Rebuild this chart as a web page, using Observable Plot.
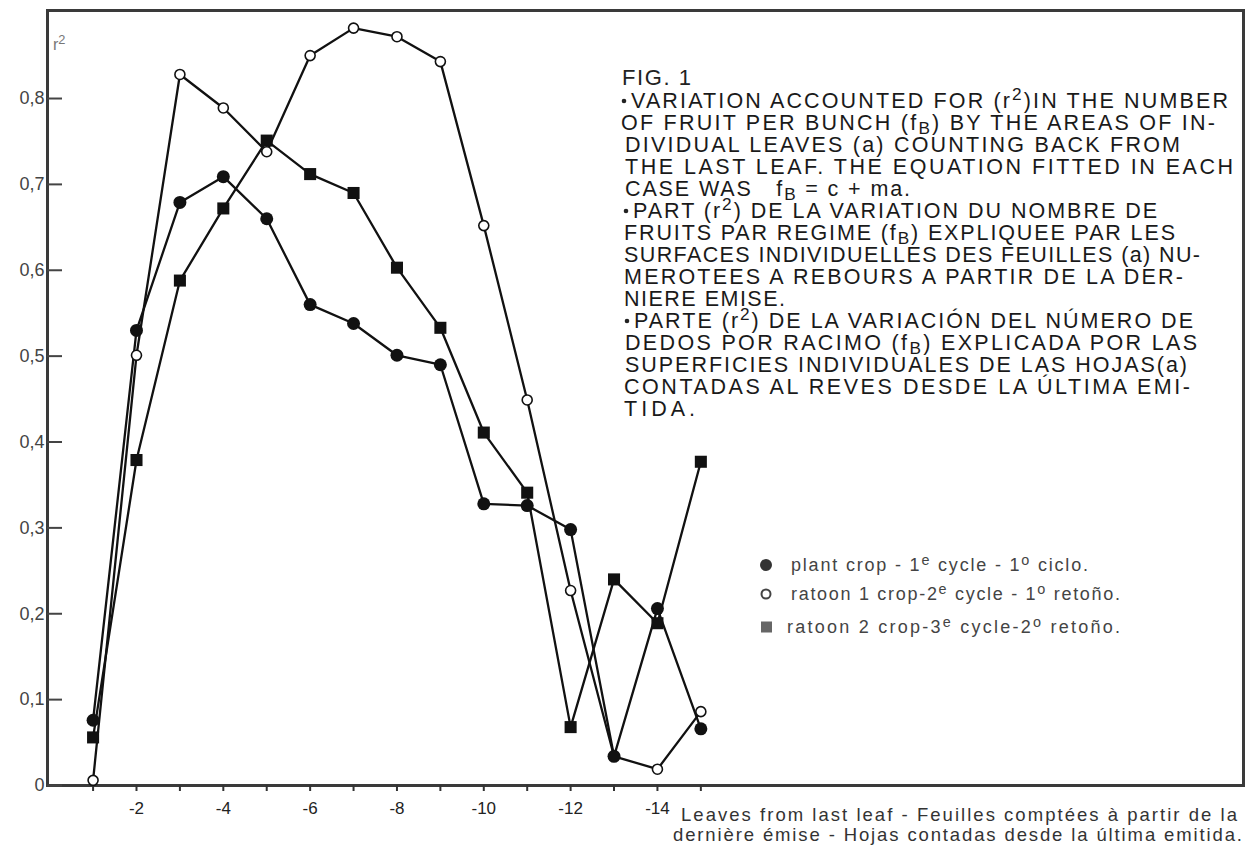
<!DOCTYPE html>
<html><head><meta charset="utf-8">
<script src="https://cdn.jsdelivr.net/npm/d3@7"></script>
<script src="https://cdn.jsdelivr.net/npm/@observablehq/plot@0.6"></script>
<style>
body{margin:0;background:#fff}
#chart{position:relative;width:1254px;height:846px}
</style>
</head><body><div id="chart"></div>
<script>
// ---------- data ----------
const leaves = [-1,-2,-3,-4,-5,-6,-7,-8,-9,-10,-11,-12,-13,-14,-15];
const plantCrop = [0.076,0.530,0.679,0.709,0.660,0.560,0.538,0.501,0.490,0.328,0.326,0.298,0.034,0.206,0.066];
const ratoon1   = [0.006,0.501,0.828,0.789,0.738,0.850,0.882,0.872,0.843,0.652,0.449,0.227,0.034,0.019,0.086];
const ratoon2   = [0.056,0.379,0.588,0.672,0.751,0.712,0.690,0.603,0.533,0.411,0.341,0.068,0.240,0.189,0.377];
const seriesKeys = ["plant", "ratoon1", "ratoon2"];
const seriesLabels = [
  "plant crop - 1{^e} cycle - 1{^o} ciclo.",
  "ratoon 1 crop-2{^e} cycle - 1{^o} retoño.",
  "ratoon 2 crop-3{^e} cycle-2{^o} retoño."
];
const yTicks = [0,0.1,0.2,0.3,0.4,0.5,0.6,0.7,0.8];
const xTicks = leaves;
const xLabels = [-2,-4,-6,-8,-10,-12,-14];
const yTitle = "r{^2}";
const figTitle = "FIG. 1";
const noteText = [
  "VARIATION ACCOUNTED FOR (r{^2})IN THE NUMBER",
  "OF FRUIT PER BUNCH (f{_B}) BY THE AREAS OF IN-",
  "DIVIDUAL LEAVES (a) COUNTING BACK FROM",
  "THE LAST LEAF. THE EQUATION FITTED IN EACH",
  "CASE WAS   f{_B} = c + ma.",
  "PART (r{^2}) DE LA VARIATION DU NOMBRE DE",
  "FRUITS PAR REGIME (f{_B}) EXPLIQUEE PAR LES",
  "SURFACES INDIVIDUELLES DES FEUILLES (a) NU-",
  "MEROTEES A REBOURS A PARTIR DE LA DER-",
  "NIERE EMISE.",
  "PARTE (r{^2}) DE LA VARIACIÓN DEL NÚMERO DE",
  "DEDOS POR RACIMO (f{_B}) EXPLICADA POR LAS",
  "SUPERFICIES INDIVIDUALES DE LAS HOJAS(a)",
  "CONTADAS AL REVES DESDE LA ÚLTIMA EMI-",
  "TIDA."
];
const captionText = [
  "Leaves from last leaf - Feuilles comptées à partir de la",
  "dernière émise - Hojas contadas desde la última emitida."
];

// ---------- table ----------
const rows = [];
leaves.forEach((l, i) => {
  rows.push({leaf: l, r2: plantCrop[i], series: "plant"});
  rows.push({leaf: l, r2: ratoon1[i], series: "ratoon1"});
  rows.push({leaf: l, r2: ratoon2[i], series: "ratoon2"});
});
const of = k => rows.filter(d => d.series === k);

const fmtY = d => d === 0 ? "0" : d.toFixed(1).replace(".", ",");
const fmtX = d => xLabels.includes(d) ? "-" + (-d) : "";
const FONT = "'Liberation Sans', Arial, sans-serif";

const plot = Plot.plot({
  width: 1254, height: 846,
  marginLeft: 47, marginRight: 11, marginTop: 10, marginBottom: 61,
  x: {domain: [0.05, -27.5]},
  y: {domain: [0, 0.9025]},
  style: {fontFamily: FONT, background: "white", color: "#333"},
  marks: [
    Plot.frame({stroke: "#3a3a3a", strokeWidth: 3}),
    Plot.axisY(yTicks, {tickSize: -15, tickPadding: 18, tickFormat: fmtY, fontSize: 18, strokeWidth: 2, stroke: "#444", fill: "#444", label: null}),
    Plot.axisX(xTicks, {tickSize: 6, tickPadding: 10, tickFormat: fmtX, fontSize: 17, strokeWidth: 2, stroke: "#333", fill: "#222", label: null}),
    Plot.line(rows, {x: "leaf", y: "r2", z: "series", stroke: "#111", strokeWidth: 2.3}),
    Plot.dot(of("ratoon1"), {x: "leaf", y: "r2", r: 5, fill: "white", stroke: "#111", strokeWidth: 1.6}),
    Plot.dot(of("plant"), {x: "leaf", y: "r2", r: 6.5, fill: "#111"}),
    Plot.dot(of("ratoon2"), {x: "leaf", y: "r2", r: 6.8, symbol: "square", fill: "#111"})
  ]
});
document.getElementById("chart").appendChild(plot);

// ---------- rich text helper ----------
function rich(g, str, x, y, size, endX, fill) {
  const t = g.append("text").attr("x", x).attr("y", y).attr("font-size", size).attr("fill", fill)
    .attr("text-anchor", "start").style("white-space", "pre");
  const re = /\{([\^_])([^}]*)\}/g; let last = 0, m, shift = 0;
  const put = (s, dy, fs) => {
    const sp = t.append("tspan").text(s);
    if (dy) sp.attr("dy", dy);
    if (fs) sp.attr("font-size", fs);
  };
  while ((m = re.exec(str))) {
    if (m.index > last) { put(str.slice(last, m.index), shift ? -shift : 0); shift = 0; }
    const s = m[1] === "^" ? -0.36 * size : 0.2 * size;
    put(m[2], s, size * 0.8); shift = s;
    last = re.lastIndex;
  }
  if (last < str.length) put(str.slice(last), shift ? -shift : 0);
  if (endX) t.attr("textLength", endX - x).attr("lengthAdjust", "spacing");
  return t;
}

const svg = d3.select(plot);
const g = svg.append("g").attr("font-family", FONT).attr("text-anchor", "start");

// y title
rich(g, yTitle, 53, 50, 16, null, "#777");

// figure annotation
rich(g, figTitle, 622, 85, 22, 691, "#222");
const noteX = [631,621,625,625,625,633,624,624,624,624,634,625,625,624,624];
const noteEnd = [1228,1215,1180,1233,910,1157,1175,1200,1183,785,1193,1197,1187,1190,695];
const bullets = [0,5,10];
noteText.forEach((s, i) => {
  const yb = 108 + 22 * i;
  rich(g, s, noteX[i], yb, 21.5, noteEnd[i], "#1a1a1a");
  if (bullets.includes(i)) g.append("circle").attr("cx", noteX[i] - 7).attr("cy", yb - 7).attr("r", 2.3).attr("fill", "#222");
});

// legend
const legY = [565, 594, 627];
const legX = [791, 791, 787];
const legEnd = [1088, 1120, 1120];
seriesLabels.forEach((s, i) => {
  rich(g, s, legX[i], legY[i] + 6, 18, legEnd[i], "#444");
});
g.append("circle").attr("cx", 766).attr("cy", legY[0]).attr("r", 6).attr("fill", "#333");
g.append("circle").attr("cx", 766).attr("cy", legY[1]).attr("r", 4.5).attr("fill", "none").attr("stroke", "#444").attr("stroke-width", 2);
g.append("rect").attr("x", 761).attr("y", legY[2] - 5.5).attr("width", 11).attr("height", 11).attr("fill", "#666");

// caption
rich(g, captionText[0], 681, 821, 18.5, 1237, "#333");
rich(g, captionText[1], 673, 841, 18.5, 1242, "#333");
</script>
</body></html>
